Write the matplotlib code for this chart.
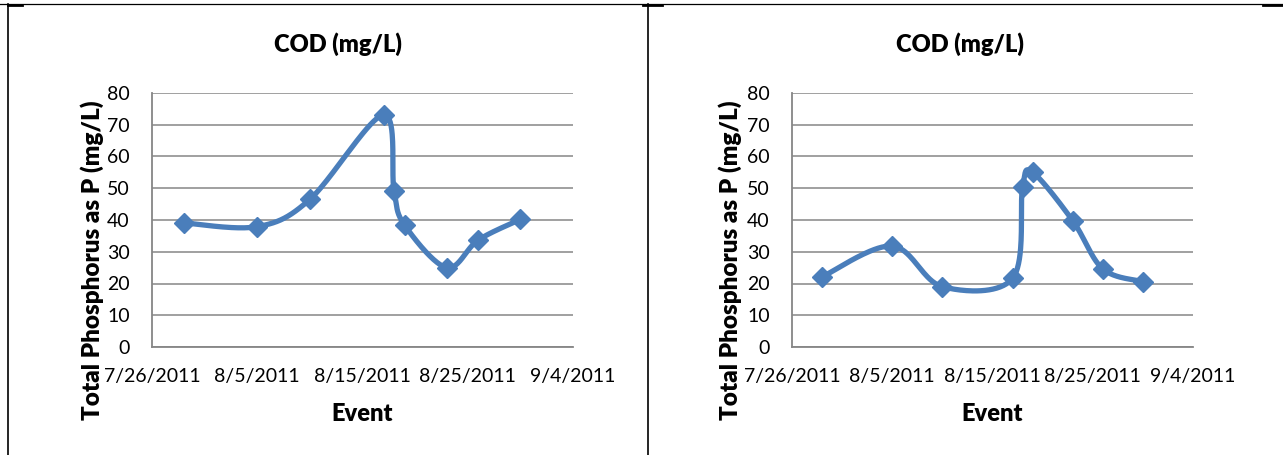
import datetime as dt
import numpy as np
import matplotlib
matplotlib.use("Agg")
import matplotlib.pyplot as plt
import matplotlib.dates as mdates
from matplotlib.lines import Line2D

plt.rcParams['font.family'] = ['Lato', 'DejaVu Sans']

# sample dates (same for both panels)
dates = [dt.date(2011, 7, 29), dt.date(2011, 8, 5), dt.date(2011, 8, 10),
         dt.date(2011, 8, 17), dt.date(2011, 8, 18), dt.date(2011, 8, 19),
         dt.date(2011, 8, 23), dt.date(2011, 8, 26), dt.date(2011, 8, 30)]
left_vals = [39.1, 37.9, 46.5, 73.1, 49.1, 38.4, 25.0, 33.7, 40.2]
right_vals = [22.1, 31.8, 19.0, 21.6, 50.3, 55.0, 39.8, 24.6, 20.6]

x_start = dt.date(2011, 7, 26)
x_end = dt.date(2011, 9, 4)
tick_dates = [x_start + dt.timedelta(days=10 * i) for i in range(5)]
tick_labels = ["%d/%d/%d" % (d.month, d.day, d.year) for d in tick_dates]
y_ticks = list(range(0, 90, 10))

BLUE = '#4A7EBB'
GRID = '#868686'


# Excel-style smoothed line: cubic Bezier through the points, done in pixel space
def smooth_line(ax, xs, ys, n=40):
    pts = ax.transData.transform(np.column_stack([xs, ys]))
    p = np.vstack([pts[0], pts, pts[-1]])
    out = []
    t = np.linspace(0, 1, n)[:, None]
    for i in range(1, len(p) - 2):
        p0, p3 = p[i], p[i + 1]
        c1 = p0 + (p[i + 1] - p[i - 1]) / 6.0
        c2 = p3 - (p[i + 2] - p[i]) / 6.0
        seg = ((1 - t) ** 3) * p0 + 3 * ((1 - t) ** 2) * t * c1 \
            + 3 * (1 - t) * t ** 2 * c2 + t ** 3 * p3
        out.append(seg)
    out = np.vstack(out)
    return ax.transData.inverted().transform(out)


def make_panel(fig, rect, values, title_x, ylabel_x):
    ax = fig.add_axes(rect)
    xs = mdates.date2num(dates)
    ax.set_xlim(mdates.date2num(x_start), mdates.date2num(x_end))
    ax.set_ylim(0, 80)
    ax.set_xticks(mdates.date2num(tick_dates))
    ax.set_xticklabels(tick_labels)
    ax.set_yticks(y_ticks)
    ax.tick_params(length=0, labelsize=14)
    ax.tick_params(axis='x', pad=15)
    ax.tick_params(axis='y', pad=16)
    ax.grid(axis='y', color=GRID, lw=1.1)
    ax.set_axisbelow(True)
    for s in ['top', 'right']:
        ax.spines[s].set_visible(False)
    for s in ['left', 'bottom']:
        ax.spines[s].set_color(GRID)
        ax.spines[s].set_linewidth(1.3)

    curve = smooth_line(ax, xs, values)
    ax.plot(curve[:, 0], curve[:, 1], color=BLUE, lw=3.8,
            solid_capstyle='round', zorder=3, clip_on=False)
    ax.plot(xs, values, ls='none', marker='D', ms=10.5, color=BLUE,
            zorder=4, clip_on=False)

    ax.set_xlabel('Event', fontsize=17, fontweight='heavy', labelpad=13)
    fig.text(title_x, 1 - 44 / 455, 'COD (mg/L)', fontsize=17,
             fontweight='heavy', ha='center', va='center')
    fig.text(ylabel_x, 1 - 260 / 455, 'Total Phosphorus as P (mg/L)',
             fontsize=17.5, fontweight='heavy', rotation=90,
             ha='center', va='center')
    return ax


fig = plt.figure(figsize=(12.83, 4.55), dpi=100)

make_panel(fig, [152 / 1283, 1 - 347 / 455, 421 / 1283, 254 / 455],
           left_vals, 338 / 1283, 92 / 1283)
make_panel(fig, [792 / 1283, 1 - 347 / 455, 401 / 1283, 254 / 455],
           right_vals, 960 / 1283, 730 / 1283)

# table cell borders
W, H = 1283.0, 455.0
def px_line(x0, y0, x1, y1, lw):
    fig.add_artist(Line2D([x0 / W, x1 / W], [1 - y0 / H, 1 - y1 / H],
                          color='black', lw=lw, transform=fig.transFigure))

px_line(0, 3.5, W, 3.5, 0.9)
px_line(7.5, 3.5, 7.5, H, 1.2)
px_line(648, 3.5, 648, H, 1.2)
px_line(8, 4.5, 22, 4.5, 2.0)
px_line(643, 4.5, 662, 4.5, 2.0)
px_line(1263, 4.5, W, 4.5, 2.0)

fig.savefig('out.png', dpi=100)
